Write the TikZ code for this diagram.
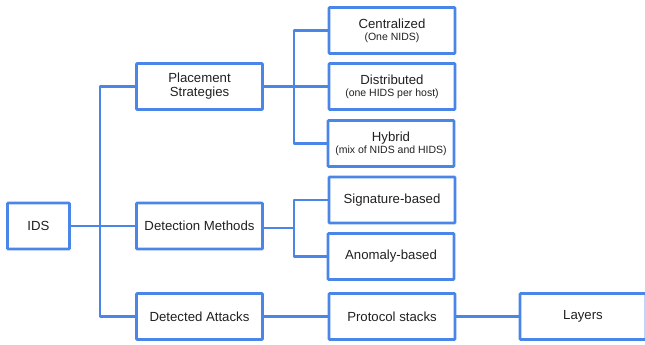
\documentclass[tikz,border=0pt]{standalone}
\usepackage{fontspec}
\setmainfont{Liberation Sans}
\usepackage{xcolor}
\usepackage{tikz}
\usetikzlibrary{calc,positioning}
\definecolor{idsblue}{HTML}{4A86E8}
\definecolor{idstext}{HTML}{202020}
\newcommand{\sub}[1]{\\[-2pt]{\fontsize{10.5}{12}\selectfont #1}}

\begin{document}
\begin{tikzpicture}[x=1pt,y=-1pt,
	box/.style={draw=idsblue,line width=2.8pt,rounded corners=0.8pt,minimum width=126pt,minimum height=46pt,
		align=center,text=idstext,font=\fontsize{13.2}{14}\selectfont,inner sep=1pt},
	link/.style={draw=idsblue,line width=2.8pt,line join=round}]
	\useasboundingbox (0,0) rectangle (645,345);
	% first level
	\node[box,minimum width=62pt] (ids) at (38.5,226) {IDS};
	\node[box] (place) at (199.5,86.5) {Placement\\Strategies};
	\node[box] (detect) at (199.5,226) {Detection Methods};
	\node[box] (attacks) at (199.5,316.5) {Detected Attacks};
	% second level
	\node[box] (central) at (392,30.5) {Centralized\sub{(One NIDS)}};
	\node[box] (distrib) at (392,86.5) {Distributed\sub{(one HIDS per host)}};
	\node[box] (hybrid) at (391,143.5) {Hybrid\sub{(mix of NIDS and HIDS)}};
	\node[box] (sign) at (392,200) {Signature-based};
	\node[box] (anom) at (391,256.5) {Anomaly-based};
	\node[box] (proto) at (392,316.5) {Protocol stacks};
	\node[box] (layers) at (583,316.5) {Layers};
	\coordinate (trunk) at (100,0);
	\coordinate (forka) at (294,0);
	\coordinate (forkb) at (294,228);
	% connectors
	\draw[link] (ids) -- (detect);
	\draw[link] (place.west) -- (place.west -| trunk) -- (attacks.west -| trunk) -- (attacks.west);
	\draw[link] (place.east) -- (distrib.west);
	\draw[link] (central.west) -- (central.west -| forka) -- (hybrid.west -| forka) -- (hybrid.west);
	\draw[link] (detect.east |- forkb) -- (forkb);
	\draw[link] (sign.west) -- (sign.west -| forka) -- (anom.west -| forka) -- (anom.west);
	\draw[link] (attacks) -- (proto);
	\draw[link] (proto) -- (layers);
\end{tikzpicture}
\end{document}
